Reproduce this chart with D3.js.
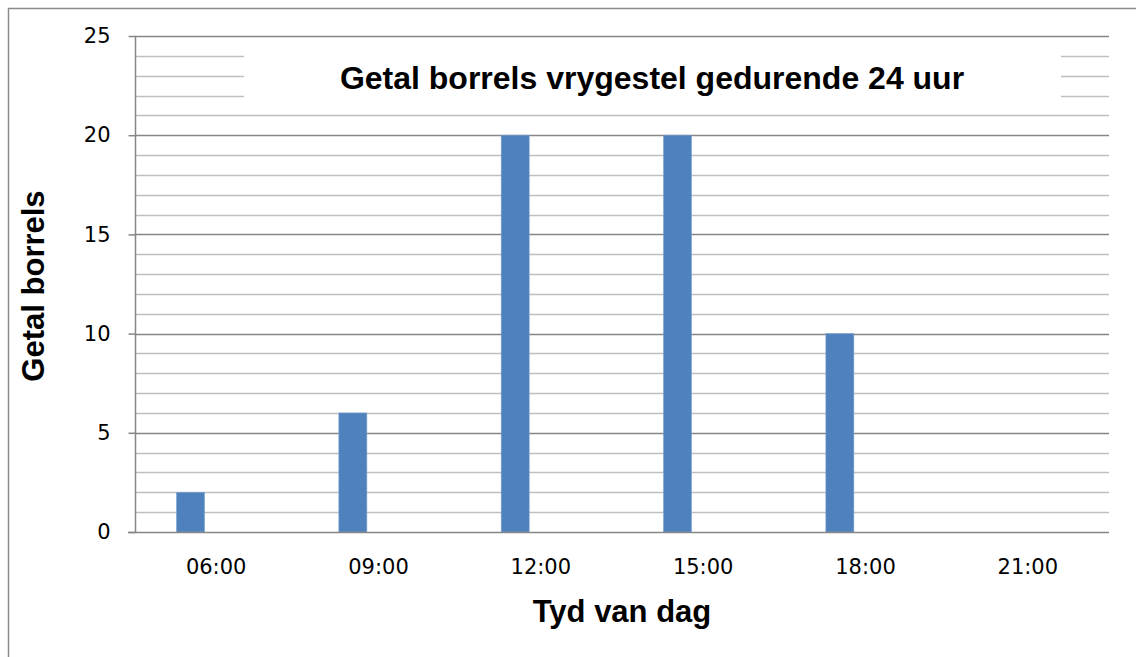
<!DOCTYPE html>
<html>
<head>
<meta charset="utf-8">
<script src="https://cdn.jsdelivr.net/npm/d3@7"></script>
<style>
  body { margin: 0; background: #fff; }
  svg { display: block; }
</style>
</head>
<body>
<script>
const categories = ['06:00', '09:00', '12:00', '15:00', '18:00', '21:00'];
const borrels = [2, 6, 20, 20, 10, 0];
const slots = ['Reeks1', 'Reeks2', 'Reeks3'];
const yTicks = [0, 5, 10, 15, 20, 25];
const chartTitle = 'Getal borrels vrygestel gedurende 24 uur';
const xTitle = 'Tyd van dag';
const yTitle = 'Getal borrels';

const width = 1136;
const height = 657;
const plot = { left: 135, right: 1109, top: 36, bottom: 532 };

const svg = d3.select('body').append('svg')
  .attr('width', width)
  .attr('height', height);

// outer chart border (only top and left visible)
svg.append('path')
  .attr('d', `M8.5,${height} V8.5 H${width}`)
  .attr('fill', 'none')
  .attr('stroke', '#8c8c8c')
  .attr('stroke-width', 1.5);

const x = d3.scaleBand().domain(categories).range([plot.left, plot.right]);
const x1 = d3.scaleBand().domain(slots).range([0, x.bandwidth()])
  .paddingOuter(1.4).align(0.53);
const y = d3.scaleLinear().domain([0, 25]).range([plot.bottom, plot.top]);

// minor gridlines
svg.append('g')
  .selectAll('line')
  .data(d3.range(1, 25).filter(v => v % 5 !== 0))
  .join('line')
  .attr('x1', plot.left).attr('x2', plot.right)
  .attr('y1', d => Math.round(y(d)) + 0.5).attr('y2', d => Math.round(y(d)) + 0.5)
  .attr('stroke', '#bfbfbf')
  .attr('stroke-width', 1.5);

// major gridlines
svg.append('g')
  .selectAll('line')
  .data(yTicks.filter(v => v > 0))
  .join('line')
  .attr('x1', plot.left).attr('x2', plot.right)
  .attr('y1', d => Math.round(y(d)) + 0.5).attr('y2', d => Math.round(y(d)) + 0.5)
  .attr('stroke', '#868686')
  .attr('stroke-width', 1.5);

// title box hides gridlines behind title
svg.append('rect')
  .attr('x', 244).attr('y', y(24.6))
  .attr('width', 1061 - 244).attr('height', y(21.4) - y(24.6))
  .attr('fill', '#fff');

svg.append('text')
  .attr('x', 652).attr('y', 89)
  .attr('text-anchor', 'middle')
  .attr('font-family', 'Liberation Sans, Arial, sans-serif')
  .attr('font-weight', 'bold')
  .attr('font-size', 32)
  .text(chartTitle);

// bars
svg.append('g')
  .selectAll('rect')
  .data(categories.map((c, i) => ({ c, v: borrels[i] })))
  .join('rect')
  .attr('x', d => x(d.c) + x1('Reeks1'))
  .attr('width', x1.bandwidth())
  .attr('y', d => y(d.v))
  .attr('height', d => y(0) - y(d.v))
  .attr('fill', '#4f81bd')
  .attr('stroke', '#7aa0d0')
  .attr('stroke-width', 0.6);

// y axis
const yAxis = d3.axisLeft(y).tickValues(yTicks).tickSize(7).tickPadding(18);
const gy = svg.append('g')
  .attr('transform', `translate(${plot.left + 0.5},0)`)
  .call(yAxis);
gy.select('.domain').attr('stroke', '#868686').attr('stroke-width', 1.5)
  .attr('d', `M0,${plot.top}V${plot.bottom}`);
gy.selectAll('.tick line').attr('stroke', '#868686').attr('stroke-width', 1.5);
gy.selectAll('.tick text')
  .attr('font-family', 'DejaVu Sans, sans-serif')
  .attr('font-size', 21)
  .attr('fill', '#000');

// x axis
const xAxis = d3.axisBottom(x).tickSize(0).tickPadding(27);
const gx = svg.append('g')
  .attr('transform', `translate(0,${Math.round(y(0)) + 0.5})`)
  .call(xAxis);
gx.select('.domain').attr('stroke', '#868686').attr('stroke-width', 1.5)
  .attr('d', `M${plot.left - 7},0H${plot.right}`);
gx.selectAll('.tick text')
  .attr('font-family', 'DejaVu Sans, sans-serif')
  .attr('font-size', 21)
  .attr('fill', '#000');

// axis titles
svg.append('text')
  .attr('x', 622).attr('y', 622)
  .attr('text-anchor', 'middle')
  .attr('font-family', 'Liberation Sans, Arial, sans-serif')
  .attr('font-weight', 'bold')
  .attr('font-size', 31)
  .text(xTitle);

svg.append('text')
  .attr('transform', `translate(44,${286}) rotate(-90)`)
  .attr('text-anchor', 'middle')
  .attr('font-family', 'Liberation Sans, Arial, sans-serif')
  .attr('font-weight', 'bold')
  .attr('font-size', 31)
  .text(yTitle);
</script>
</body>
</html>
